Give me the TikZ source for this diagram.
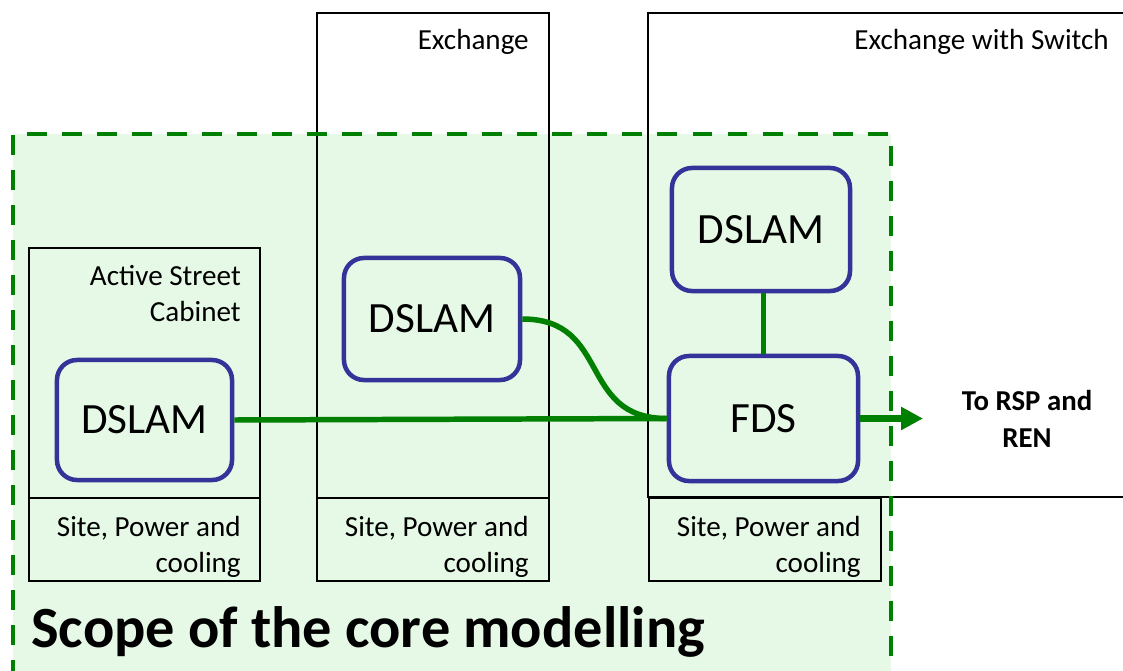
\documentclass[tikz,border=0pt]{standalone}
\usepackage{fontspec}
\setmainfont{Carlito}
\usepackage{tikz}
\usetikzlibrary{arrows.meta, positioning, calc}
\usepackage{xcolor}
\definecolor{scopegreen}{HTML}{008000}
\definecolor{scopefill}{HTML}{E6F8E6}
\definecolor{dslamblue}{HTML}{333399}

\begin{document}
\begin{tikzpicture}[
    x=0.025cm, y=-0.025cm,
    frame/.style={draw=black, line width=1.1pt},
    lbl/.style={inner sep=0pt, font=\fontsize{20.7}{25.6}\selectfont, align=right},
    dslam/.style={
      draw=dslamblue, line width=3.2pt, rounded corners=0.5cm,
      font=\fontsize{30.7}{36}\selectfont, align=center
    },
    link/.style={draw=scopegreen, line width=3.9pt},
    arr/.style={link, line width=4.4pt, -{Triangle[length=0.55cm, width=0.55cm]}},
  ]
    \useasboundingbox (0,0) rectangle (1123,670);
    \clip (0,0) rectangle (1123,670);

    % --- Scope area ---
    \fill[scopefill] (13,134) rectangle (891,680);

    % --- Sites ---
    \draw[frame] (29,248) rectangle (260,581);
    \draw[frame] (29,498) -- (260,498);
    \draw[frame] (317,13) rectangle (549,581);
    \draw[frame] (317,498) -- (549,498);
    \draw[frame] (1130,13) -- (648,13) -- (648,497) -- (1130,497);
    \draw[frame] (649,498) rectangle (881,581);

    \node[lbl, anchor=north east] (cablbl) at (241,265) {Active Street\\Cabinet};
    \node[lbl, anchor=base east]  (exlbl)  at (529,50)  {Exchange};
    \node[lbl, anchor=base east]  (swlbl)  at (1109,50) {Exchange with Switch};
    \node[lbl, anchor=north east] (cabpwr) at (241,516) {Site, Power and\\cooling};
    \node[lbl, anchor=north east] (expwr)  at (529,516) {Site, Power and\\cooling};
    \node[lbl, anchor=north east] (swpwr)  at (861,516) {Site, Power and\\cooling};

    % --- Equipment ---
    \node[dslam, minimum width=4.375cm, minimum height=3cm]     (cabd) at (144.5,420) {DSLAM};
    \node[dslam, minimum width=4.4cm,   minimum height=3.05cm]  (exd)  at (432,319)   {DSLAM};
    \node[dslam, minimum width=4.45cm,  minimum height=3.075cm] (swd)  at (761,229.5) {DSLAM};
    \node[dslam, minimum width=4.725cm, minimum height=3.125cm] (fds)  at (763.5,418.5) {FDS};

    % --- Links ---
    \draw[link] (cabd.east) -- (fds.west);
    \draw[link] (exd.east) to[out=0, in=180, looseness=1.3] (fds.west);
    \draw[link] (fds.north) -- (fds.north |- swd.south);
    \coordinate (out) at (923,418.5);
    \draw[arr] (fds.east) -- (out);
    \node[font=\bfseries\fontsize{20.5}{26.3}\selectfont, align=center] (rsp) at (1027,418.5) {To RSP and\\REN};

    % --- Scope border ---
    \draw[scopegreen, line width=3pt, dash pattern=on 14.2pt off 10.7pt]
      (13,680) -- (13,134) -- (891,134) -- (891,680);
    \node[inner sep=0pt, anchor=base west, font=\bfseries\fontsize{41.5}{48}\selectfont] (scope) at (31,647)
      {Scope of the core modelling};
  \end{tikzpicture}
\end{document}
